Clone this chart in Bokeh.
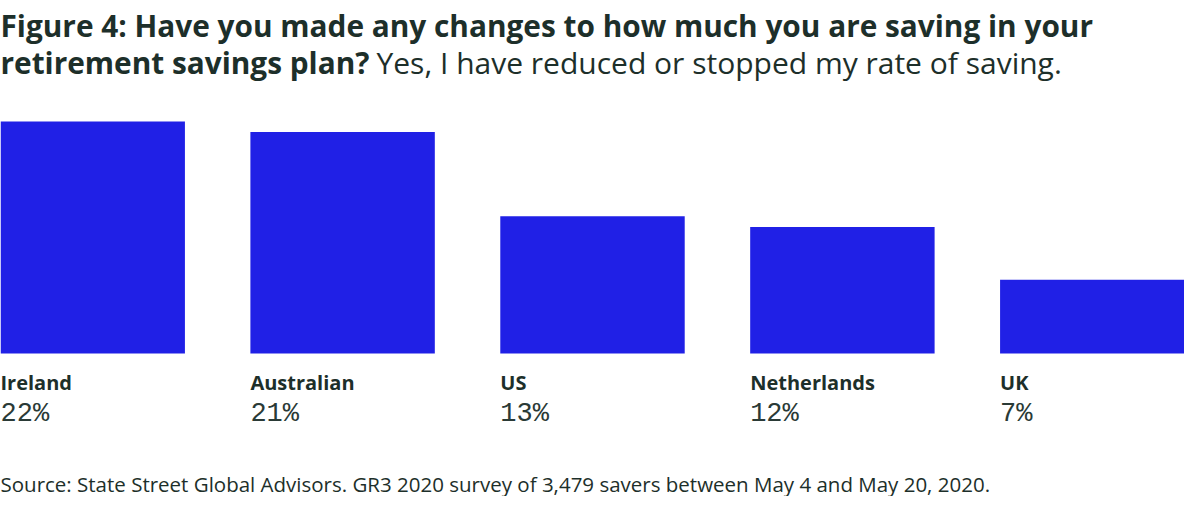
from bokeh.plotting import figure
from bokeh.models import Label, LabelSet, Range1d, ColumnDataSource
from bokeh.core.properties import value
from bokeh.embed import file_html
from bokeh.resources import INLINE

categories = ["Ireland", "Australian", "US", "Netherlands", "UK"]
values = [22, 21, 13, 12, 7]
value_labels = ["22%", "21%", "13%", "12%", "7%"]

title_bold_1 = "Figure 4: Have you made any changes to how much you are saving in your"
title_bold_2 = "retirement savings plan?"
title_regular_2 = "Yes, I have reduced or stopped my rate of saving."
source_text = "Source: State Street Global Advisors. GR3 2020 survey of 3,479 savers between May 4 and May 20, 2020."

W, H = 1184, 496
BAR_COLOR = "#2020e6"
TEXT_COLOR = "#1d2f2a"
bar_w = 0.738
half = bar_w / 2
base_px = 143.0
px_per = 10.55

p = figure(width=W, height=H, output_backend="svg", toolbar_location=None,
           x_range=Range1d(-half, len(categories) - 1 + half),
           y_range=Range1d(-base_px / px_per, (H - base_px) / px_per),
           min_border=0, min_border_left=0, min_border_right=0,
           min_border_top=0, min_border_bottom=0)
p.axis.visible = False
p.grid.visible = False
p.outline_line_color = None
p.background_fill_color = "white"
p.border_fill_color = "white"

xs = list(range(len(categories)))
src = ColumnDataSource(dict(x=xs, left=[x - half for x in xs], top=values,
                            cat=categories, lab=value_labels))
p.vbar(x="x", top="top", bottom=0, width=bar_w, source=src,
       fill_color=BAR_COLOR, line_color=None)

p.add_layout(LabelSet(x="left", y=H - 389, y_units="screen", text="cat", source=src,
                      text_font=value("Open Sans"), text_font_style="bold",
                      text_font_size=value("20px"),
                      text_color=TEXT_COLOR, text_align="left", text_baseline="alphabetic"))
p.add_layout(LabelSet(x="left", y=H - 420, y_units="screen", text="lab", source=src,
                      text_font=value("Liberation Mono"), text_font_size=value("27px"),
                      text_color="#2a3a36", text_align="left", text_baseline="alphabetic"))

def lab(x, y, text, font, size, style="normal"):
    p.add_layout(Label(x=x, y=H - y, x_units="screen", y_units="screen", text=text,
                       text_font=font, text_font_size=size, text_font_style=style,
                       text_color=TEXT_COLOR, text_align="left", text_baseline="alphabetic"))

lab(0, 25, title_bold_1, "Open Sans", "29.8px", "bold")
lab(0, 62, title_bold_2, "Open Sans", "29.8px", "bold")
lab(376, 62, title_regular_2, "Open Sans", "30px")
lab(0, 483, source_text, "Open Sans", "20.5px")

open("out.html", "w").write(file_html(p, INLINE))
